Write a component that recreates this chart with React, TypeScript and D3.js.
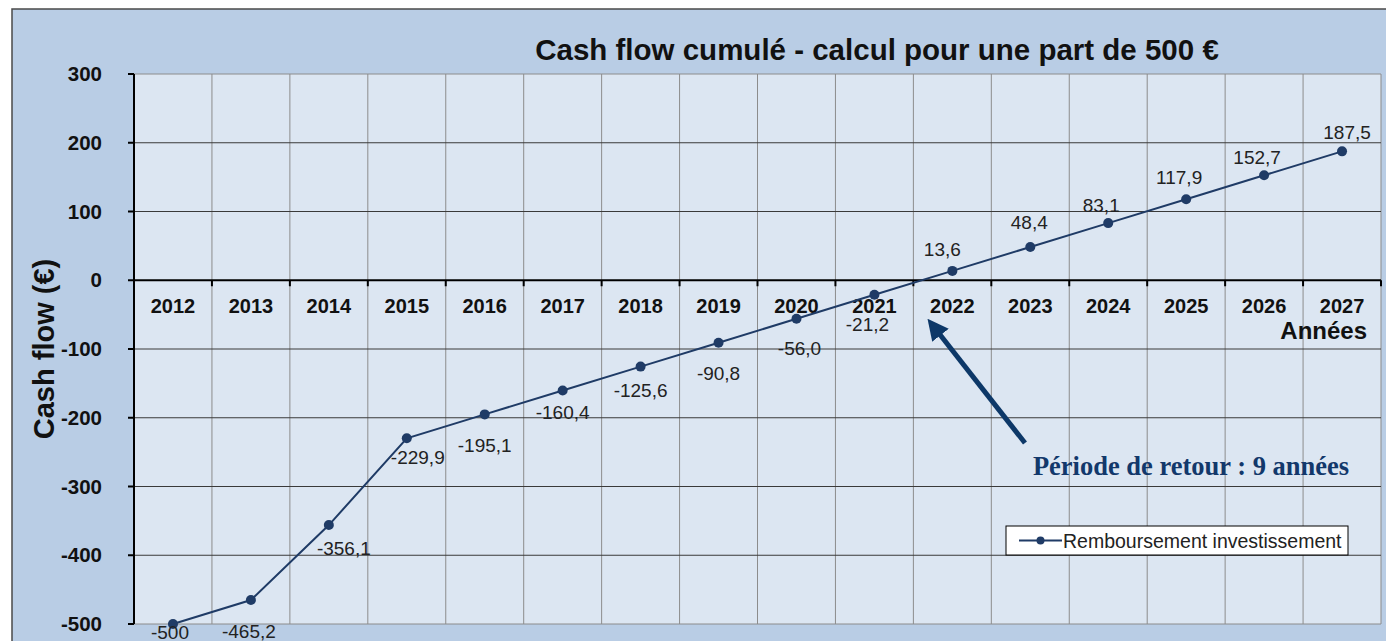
import React from 'react';
import * as d3 from 'd3';

const years = ['2012', '2013', '2014', '2015', '2016', '2017', '2018', '2019', '2020', '2021', '2022', '2023', '2024', '2025', '2026', '2027'];
const cashFlow = [-500, -465.2, -356.1, -229.9, -195.1, -160.4, -125.6, -90.8, -56.0, -21.2, 13.6, 48.4, 83.1, 117.9, 152.7, 187.5];
const yTicks = [300, 200, 100, 0, -100, -200, -300, -400, -500];

const W = 1386;
const H = 641;
const plot = { left: 134, right: 1381, top: 74, bottom: 624 };

const fmt = (v: number) => (v === -500 ? '-500' : v.toFixed(1).replace('.', ','));

// data label nudges (dx, baseline dy) so they sit like in the excel chart
const labelNudge: [number, number][] = [
  [-3, 15], [-2, 38], [15, 30], [11, 26], [0, 38], [0, 28], [0, 30], [0, 37],
  [3, 36], [-7, 36], [-10, -15], [-1, -18], [-7, -11], [-7, -15], [-7, -11], [5, -12],
];

export default function App() {
  const x = d3.scaleBand<string>().domain(years).range([plot.left, plot.right]);
  const y = d3.scaleLinear().domain([-500, 300]).range([plot.bottom, plot.top]);
  const cx = (yr: string) => (x(yr) ?? 0) + x.bandwidth() / 2;

  const line = d3
    .line<number>()
    .x((_, i) => cx(years[i]))
    .y((d) => y(d));

  const y0 = y(0);
  const font = 'Arial, "Liberation Sans", sans-serif';
  const navy = '#1f3b66';

  return (
    <svg width={W} height={H} style={{ position: 'absolute', left: 0, top: 0, background: '#fff' }} fontFamily={font}>
      <defs>
        <marker id="arrowHead" viewBox="0 0 10 10" refX="5" refY="5" markerWidth="4.2" markerHeight="4.2" orient="auto">
          <path d="M0,0 L10,5 L0,10 z" fill="#0d3868" />
        </marker>
      </defs>
      {/* chart area background */}
      <rect x={12} y={9} width={W} height={H} fill="#b9cde5" stroke="#4a4a4a" strokeWidth={1.5} />
      <rect x={plot.left} y={plot.top} width={plot.right - plot.left} height={plot.bottom - plot.top} fill="#dce6f2" />

      {/* vertical grid */}
      {years.map((yr) => (
        <line key={'v' + yr} x1={(x(yr) ?? 0) + x.bandwidth()} x2={(x(yr) ?? 0) + x.bandwidth()} y1={plot.top} y2={plot.bottom} stroke="#8c8c8c" strokeWidth={1} />
      ))}
      <line x1={plot.left} x2={plot.right} y1={plot.top} y2={plot.top} stroke="#8c8c8c" strokeWidth={1} />
      <line x1={plot.left} x2={plot.right} y1={plot.bottom} y2={plot.bottom} stroke="#8c8c8c" strokeWidth={1} />

      {/* horizontal grid */}
      {yTicks
        .filter((t) => t !== 0 && t !== 300 && t !== -500)
        .map((t) => (
          <line key={'h' + t} x1={plot.left} x2={plot.right} y1={y(t)} y2={y(t)} stroke="#3a3a3a" strokeWidth={1.2} />
        ))}

      {/* y axis */}
      <line x1={plot.left} x2={plot.left} y1={plot.top} y2={plot.bottom} stroke="#000" strokeWidth={2} />
      {yTicks.map((t) => (
        <g key={'yt' + t}>
          <line x1={plot.left - 6} x2={plot.left} y1={y(t)} y2={y(t)} stroke="#000" strokeWidth={2} />
          <text x={102} y={y(t)} dy="0.35em" textAnchor="end" fontSize={20.5} fontWeight="bold" fill="#111">
            {t}
          </text>
        </g>
      ))}

      {/* x axis at zero */}
      <line x1={plot.left} x2={plot.right} y1={y0} y2={y0} stroke="#000" strokeWidth={2.2} />
      {years.map((yr) => (
        <g key={'xt' + yr}>
          <line x1={(x(yr) ?? 0) + x.bandwidth()} x2={(x(yr) ?? 0) + x.bandwidth()} y1={y0} y2={y0 + 6} stroke="#000" strokeWidth={2} />
          <text x={cx(yr)} y={313} textAnchor="middle" fontSize={20} fontWeight="bold" fill="#111">
            {yr}
          </text>
        </g>
      ))}
      <text x={1367} y={339} textAnchor="end" fontSize={24} fontWeight="bold" fill="#111">
        Années
      </text>

      {/* series */}
      <path d={line(cashFlow) ?? ''} fill="none" stroke={navy} strokeWidth={2} />
      {cashFlow.map((v, i) => (
        <circle key={'p' + i} cx={cx(years[i])} cy={y(v)} r={5} fill={navy} />
      ))}
      {cashFlow.map((v, i) => {
        const [dx, dy] = labelNudge[i];
        return (
          <text key={'l' + i} x={cx(years[i]) + dx} y={y(v) + dy} textAnchor="middle" fontSize={19} fill="#222">
            {fmt(v)}
          </text>
        );
      })}

      {/* title */}
      <text x={877} y={60} textAnchor="middle" fontSize={29.5} fontWeight="bold" fill="#111">
        Cash flow cumulé - calcul pour une part de 500 €
      </text>
      <text transform={`translate(54,349) rotate(-90)`} textAnchor="middle" fontSize={29} fontWeight="bold" fill="#111">
        Cash flow (€)
      </text>

      {/* annotation */}
      <line x1={1025} y1={443} x2={934} y2={327} stroke="#0d3868" strokeWidth={5} markerEnd="url(#arrowHead)" />
      <text x={1191} y={475} textAnchor="middle" fontSize={26.5} fontWeight="bold" fill="#12386b" fontFamily='"Liberation Serif", "Times New Roman", serif'>
        Période de retour : 9 années
      </text>

      {/* legend */}
      <rect x={1006} y={526} width={342} height={29} fill="#fff" stroke="#000" strokeWidth={1} />
      <line x1={1019} x2={1062} y1={540.5} y2={540.5} stroke={navy} strokeWidth={2} />
      <circle cx={1040.5} cy={540.5} r={4} fill={navy} />
      <text x={1063} y={541} dy="0.35em" fontSize={19.5} fill="#222">
        Remboursement investissement
      </text>
    </svg>
  );
}
